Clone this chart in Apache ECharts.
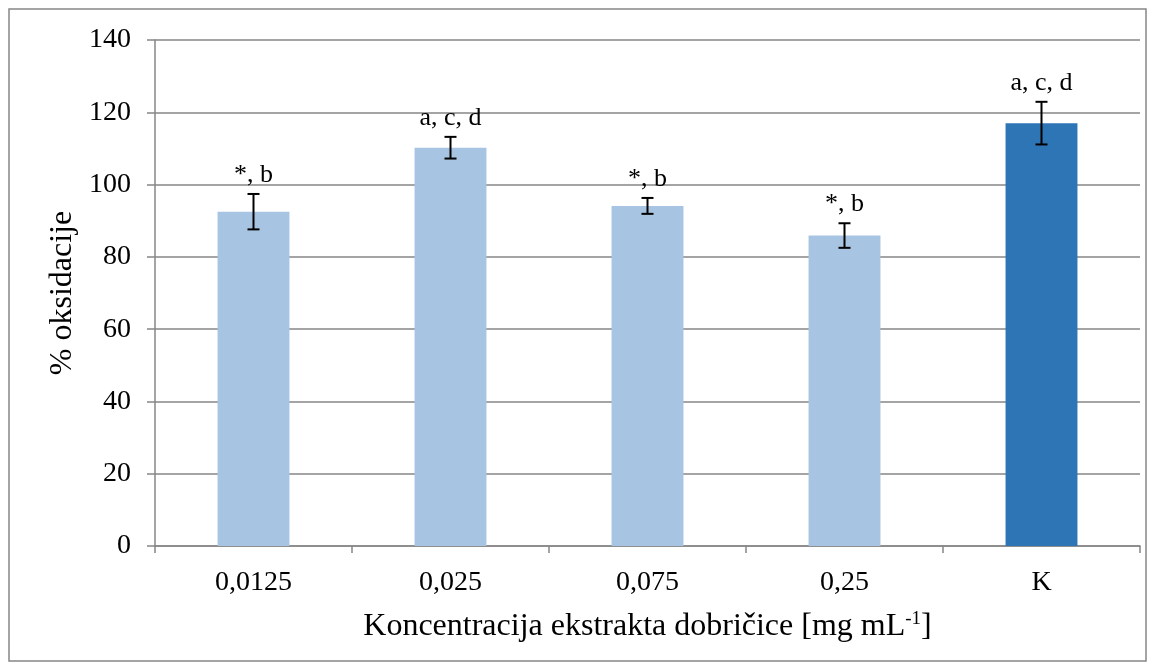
<!DOCTYPE html>
<html>
<head>
<meta charset="utf-8">
<script src="https://cdn.jsdelivr.net/npm/echarts@6/dist/echarts.min.js"></script>
<style>
  html, body { margin: 0; padding: 0; background: #fff; }
  #main { width: 1155px; height: 670px; }
</style>
</head>
<body>
<div id="main"></div>
<script>
    // data
    var categories = ['0,0125', '0,025', '0,075', '0,25', 'K'];
    var values = [92.5, 110.2, 94.1, 85.9, 117.0];
    var errors = [4.9, 3.0, 2.2, 3.4, 5.9];
    var marks = ['*, b', 'a, c, d', '*, b', '*, b', 'a, c, d'];
    var barColors = ['#A7C4E2', '#A7C4E2', '#A7C4E2', '#A7C4E2', '#2E75B6'];

    var FONT = '"Liberation Serif", "Times New Roman", serif';
    var myChart = echarts.init(document.getElementById('main'));

    var barData = values.map(function(v, i) {
        return { value: v, itemStyle: { color: barColors[i] } };
    });
    var errData = values.map(function(v, i) {
        return [i, v, errors[i]];
    });

    var option = {
        backgroundColor: '#fff',
        animation: false,
        graphic: [{
            type: 'rect',
            shape: { x: 9, y: 9, width: 1137, height: 652 },
            style: { fill: 'none', stroke: '#868686', lineWidth: 1.5 }
        }],
        grid: { left: 155, right: 15, top: 40, bottom: 124 },
        xAxis: {
            type: 'category',
            data: categories,
            axisLine: { lineStyle: { color: '#868686', width: 1.5 } },
            axisTick: { show: true, length: 7, lineStyle: { color: '#868686', width: 1.5 } },
            axisLabel: { color: '#000', fontFamily: FONT, fontSize: 28, margin: 23 },
            name: '{a|Koncentracija ekstrakta dobričice [mg mL}{s|-1}{a|]}',
            nameLocation: 'middle',
            nameGap: 64,
            nameTextStyle: {
                rich: {
                    a: { fontFamily: FONT, fontSize: 32, color: '#000' },
                    s: { fontFamily: FONT, fontSize: 19, color: '#000', verticalAlign: 'top', padding: [0, 0, 14, 0] }
                }
            }
        },
        yAxis: {
            type: 'value',
            min: 0,
            max: 140,
            interval: 20,
            axisLine: { show: true, lineStyle: { color: '#868686', width: 1.5 } },
            axisTick: { show: true, length: 8, lineStyle: { color: '#868686', width: 1.5 } },
            splitLine: { lineStyle: { color: '#868686', width: 1.5 } },
            axisLabel: { color: '#000', fontFamily: FONT, fontSize: 28, margin: 24 },
            name: '% oksidacije',
            nameLocation: 'middle',
            nameGap: 72,
            nameTextStyle: { color: '#000', fontFamily: FONT, fontSize: 32 }
        },
        series: [{
            type: 'bar',
            data: barData,
            barWidth: '36.5%'
        }, {
            type: 'custom',
            data: errData,
            z: 10,
            renderItem: function(params, api) {
                var x = api.value(0), v = api.value(1), e = api.value(2);
                var hi = api.coord([x, v + e]);
                var lo = api.coord([x, v - e]);
                var cw = 6;
                var ls = { stroke: '#000', lineWidth: 2 };
                return {
                    type: 'group',
                    children: [
                        { type: 'line', shape: { x1: hi[0], y1: hi[1], x2: lo[0], y2: lo[1] }, style: ls },
                        { type: 'line', shape: { x1: hi[0] - cw, y1: hi[1], x2: hi[0] + cw, y2: hi[1] }, style: ls },
                        { type: 'line', shape: { x1: lo[0] - cw, y1: lo[1], x2: lo[0] + cw, y2: lo[1] }, style: ls },
                        {
                            type: 'text',
                            style: {
                                text: marks[params.dataIndex],
                                x: hi[0], y: hi[1] - 6,
                                align: 'center', verticalAlign: 'bottom',
                                fontFamily: FONT, fontSize: 26, fill: '#000'
                            }
                        }
                    ]
                };
            }
        }]
    };

    myChart.setOption(option);
</script>
</body>
</html>
